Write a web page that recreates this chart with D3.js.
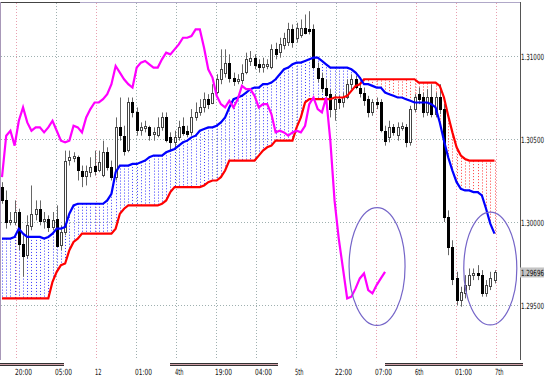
<!DOCTYPE html>
<html>
<head>
<meta charset="utf-8">
<script src="https://cdn.jsdelivr.net/npm/d3@7/dist/d3.min.js"></script>
<style>
  body { margin: 0; background: #fff; }
  svg { display: block; }
  text { font-family: "DejaVu Sans Condensed", "DejaVu Sans", sans-serif; }
</style>
</head>
<body>
<div id="chart"></div>
<script>
// Hourly bars
var open = [1.3021,1.3013,1.3000,1.3000,1.3006,1.2987,1.2980,1.2998,1.3005,1.3008,
  1.3001,1.3002,1.2997,1.3002,1.2986,1.2994,1.3037,1.3039,1.3039,1.3031,
  1.3028,1.3030,1.3034,1.3031,1.3028,1.3042,1.3033,1.3027,1.3057,1.3052,
  1.3043,1.3072,1.3066,1.3055,1.3057,1.3057,1.3053,1.3052,1.3057,1.3063,
  1.3051,1.3048,1.3051,1.3058,1.3055,1.3054,1.3063,1.3066,1.3069,1.3074,
  1.3072,1.3078,1.3086,1.3090,1.3096,1.3087,1.3085,1.3086,1.3090,1.3097,
  1.3099,1.3095,1.3093,1.3094,1.3093,1.3104,1.3102,1.3107,1.3108,1.3116,
  1.3111,1.3113,1.3117,1.3116,1.3116,1.3093,1.3087,1.3081,1.3077,1.3068,
  1.3074,1.3072,1.3075,1.3083,1.3086,1.3081,1.3078,1.3074,1.3066,1.3072,
  1.3072,1.3055,1.3051,1.3057,1.3052,1.3057,1.3057,1.3048,1.3068,1.3077,
  1.3075,1.3066,1.3075,1.3065,1.3075,1.3068,1.3003,1.2985,1.2966,1.2953,
  1.2957,1.2962,1.2968,1.2969,1.2968,1.2957,1.2961,1.2965];
var high = [1.3024,1.3019,1.3006,1.3013,1.3008,1.2992,1.3004,1.3022,1.3013,1.3013,
  1.3006,1.3004,1.3006,1.3010,1.2998,1.3043,1.3043,1.3042,1.3040,1.3034,
  1.3034,1.3039,1.3043,1.3043,1.3049,1.3045,1.3037,1.3063,1.3075,1.3058,
  1.3075,1.3075,1.3069,1.3060,1.3061,1.3058,1.3057,1.3063,1.3066,1.3066,
  1.3054,1.3055,1.3061,1.3063,1.3058,1.3068,1.3072,1.3074,1.3078,1.3077,
  1.3083,1.3089,1.3104,1.3104,1.3101,1.3090,1.3089,1.3095,1.3102,1.3103,
  1.3101,1.3098,1.3099,1.3098,1.3107,1.3108,1.3111,1.3114,1.3120,1.3119,
  1.3120,1.3122,1.3125,1.3127,1.3119,1.3096,1.3090,1.3086,1.3080,1.3077,
  1.3076,1.3078,1.3086,1.3089,1.3088,1.3084,1.3081,1.3076,1.3074,1.3075,
  1.3074,1.3058,1.3061,1.3059,1.3060,1.3060,1.3059,1.3070,1.3077,1.3081,
  1.3078,1.3080,1.3083,1.3078,1.3083,1.3071,1.3007,1.2989,1.2970,1.2961,
  1.2968,1.2972,1.2972,1.2974,1.2971,1.2965,1.2970,1.2971];
var low = [1.3011,1.2996,1.2998,1.2998,1.2983,1.2967,1.2978,1.2995,1.3001,1.2998,
  1.2996,1.2994,1.2995,1.2985,1.2983,1.2992,1.3034,1.3036,1.3025,1.3021,
  1.3022,1.3027,1.3028,1.3030,1.3027,1.3031,1.3025,1.3025,1.3049,1.3040,
  1.3042,1.3063,1.3052,1.3052,1.3054,1.3049,1.3049,1.3051,1.3055,1.3048,
  1.3043,1.3045,1.3049,1.3052,1.3051,1.3052,1.3061,1.3064,1.3066,1.3068,
  1.3071,1.3077,1.3083,1.3087,1.3084,1.3082,1.3083,1.3083,1.3089,1.3094,
  1.3092,1.3090,1.3090,1.3092,1.3092,1.3098,1.3099,1.3104,1.3106,1.3105,
  1.3108,1.3111,1.3113,1.3113,1.3092,1.3084,1.3078,1.3074,1.3063,1.3061,
  1.3068,1.3069,1.3074,1.3080,1.3080,1.3075,1.3070,1.3063,1.3064,1.3068,
  1.3054,1.3046,1.3048,1.3052,1.3049,1.3055,1.3045,1.3046,1.3066,1.3071,
  1.3063,1.3064,1.3063,1.3063,1.3065,1.3000,1.2980,1.2962,1.2950,1.2949,
  1.2954,1.2959,1.2965,1.2965,1.2955,1.2955,1.2959,1.2963];
var close = [1.3013,1.3000,1.3001,1.3006,1.2987,1.2980,1.2998,1.3005,1.3008,1.3001,
  1.3002,1.2997,1.3001,1.2986,1.2994,1.3037,1.3039,1.3040,1.3031,1.3028,
  1.3031,1.3033,1.3031,1.3036,1.3042,1.3033,1.3027,1.3057,1.3052,1.3043,
  1.3072,1.3066,1.3055,1.3057,1.3058,1.3052,1.3054,1.3057,1.3063,1.3049,
  1.3048,1.3051,1.3057,1.3054,1.3053,1.3063,1.3066,1.3069,1.3074,1.3071,
  1.3078,1.3086,1.3092,1.3096,1.3087,1.3085,1.3086,1.3090,1.3098,1.3099,
  1.3095,1.3093,1.3095,1.3095,1.3104,1.3101,1.3107,1.3111,1.3116,1.3108,
  1.3117,1.3117,1.3114,1.3115,1.3093,1.3087,1.3081,1.3077,1.3068,1.3074,
  1.3072,1.3075,1.3083,1.3086,1.3081,1.3078,1.3074,1.3066,1.3072,1.3071,
  1.3055,1.3049,1.3057,1.3054,1.3057,1.3058,1.3048,1.3068,1.3075,1.3074,
  1.3066,1.3075,1.3065,1.3075,1.3068,1.3003,1.2985,1.2966,1.2953,1.2958,
  1.2962,1.2968,1.2969,1.2968,1.2957,1.2962,1.2966,1.29696];

// Ichimoku cloud edges (blue = span A, red = span B)
var spanA = [1.2990,1.2990,1.2990,1.2991,1.2996,1.2993,1.2991,1.2991,1.2991,1.2991,
  1.2990,1.2991,1.2993,1.2996,1.2996,1.2997,1.3005,1.3010,1.3011,1.3011,
  1.3011,1.3011,1.3011,1.3011,1.3011,1.3013,1.3017,1.3030,1.3034,1.3034,
  1.3034,1.3035,1.3035,1.3036,1.3037,1.3039,1.3040,1.3040,1.3040,1.3042,
  1.3043,1.3044,1.3046,1.3048,1.3049,1.3051,1.3052,1.3055,1.3056,1.3057,
  1.3057,1.3058,1.3060,1.3063,1.3069,1.3074,1.3075,1.3076,1.3078,1.3080,
  1.3081,1.3081,1.3083,1.3083,1.3084,1.3086,1.3089,1.3092,1.3093,1.3095,
  1.3096,1.3096,1.3097,1.3098,1.3099,1.3099,1.3097,1.3095,1.3093,1.3093,
  1.3093,1.3093,1.3093,1.3092,1.3090,1.3087,1.3083,1.3083,1.3082,1.3081,
  1.3081,1.3078,1.3077,1.3076,1.3075,1.3075,1.3074,1.3073,1.3072,1.3072,
  1.3072,1.3072,1.3071,1.3069,1.3060,1.3049,1.3039,1.3031,1.3024,1.3020,
  1.3019,1.3019,1.3018,1.3018,1.3016,1.3008,1.2999,1.2993];
var spanB = [1.2954,1.2954,1.2954,1.2954,1.2954,1.2954,1.2954,1.2954,1.2954,1.2954,
  1.2954,1.2954,1.2964,1.2970,1.2974,1.2975,1.2983,1.2988,1.2990,1.2993,
  1.2993,1.2993,1.2993,1.2993,1.2993,1.2993,1.2993,1.2996,1.3005,1.3008,
  1.3010,1.3010,1.3010,1.3010,1.3010,1.3010,1.3010,1.3010,1.3011,1.3013,
  1.3018,1.3021,1.3021,1.3021,1.3021,1.3021,1.3021,1.3021,1.3022,1.3024,
  1.3025,1.3025,1.3027,1.3031,1.3037,1.3037,1.3037,1.3037,1.3037,1.3037,
  1.3037,1.3040,1.3043,1.3045,1.3046,1.3049,1.3049,1.3049,1.3049,1.3049,
  1.3057,1.3063,1.3072,1.3074,1.3074,1.3074,1.3074,1.3074,1.3074,1.3075,
  1.3075,1.3075,1.3076,1.3079,1.3082,1.3083,1.3086,1.3086,1.3086,1.3086,
  1.3086,1.3086,1.3086,1.3086,1.3086,1.3086,1.3086,1.3086,1.3086,1.3084,
  1.3084,1.3084,1.3084,1.3084,1.3082,1.3075,1.3064,1.3054,1.3045,1.3040,
  1.3038,1.3037,1.3037,1.3037,1.3037,1.3037,1.3037,1.3037];

// Lagging span (magenta), starts at the first bar
var chikou = [1.3027,1.3052,1.3055,1.3046,1.3061,1.3069,1.3060,1.3055,1.3057,1.3057,
  1.3054,1.3057,1.3061,1.3055,1.3049,1.3048,1.3049,1.3058,1.3057,1.3054,
  1.3063,1.3068,1.3072,1.3072,1.3074,1.3077,1.3083,1.3094,1.3090,1.3086,
  1.3083,1.3081,1.3093,1.3096,1.3097,1.3095,1.3093,1.3093,1.3098,1.3102,
  1.3101,1.3104,1.3107,1.3111,1.3111,1.3112,1.3116,1.3116,1.3105,1.3092,
  1.3087,1.3076,1.3071,1.3069,1.3073,1.3069,1.3074,1.3082,1.3080,1.3080,
  1.3076,1.3069,1.3071,1.3071,1.3065,1.3054,1.3055,1.3054,1.3052,1.3054,
  1.3055,1.3054,1.3058,1.3071,1.3075,1.3068,1.3066,1.3075,1.3049,1.3013,
  1.2990,1.2972,1.2954,1.2955,1.2960,1.2966,1.2969,1.2959,1.2957,1.2962,
  1.2966,1.2970];

var timeLabels = ["20:00", "05:00", "12", "01:00", "4th", "19:00", "04:00", "5th", "22:00", "07:00", "6th", "01:00", "7th"];
var priceTicks = [1.295, 1.300, 1.305, 1.310];
var lastPrice = 1.29696;

var width = 547;
var height = 377;
var plotRight = 520;
var plotBottom = 360;

var svg = d3.select("#chart")
  .append("svg")
  .attr("width", width)
  .attr("height", height);

// scales
var x = d3.scaleLinear().domain([0, close.length - 1]).range([2, 494.5]);
var y = d3.scaleLinear().domain([1.295, 1.310]).range([305, 56]);
var xTime = d3.scaleLinear().domain([0, timeLabels.length - 1]).range([16, 496]);

// squeeze a label sideways to the wanted width, keeping its height
function squeeze(sel, widthOf) {
  sel.each(function(d) {
    var t = d3.select(this);
    var tx = +t.attr("x"), ty = +t.attr("y");
    var len = this.getComputedTextLength();
    var s = Math.min(1, widthOf(d) / len);
    t.attr("x", 0).attr("y", 0)
      .attr("transform", "translate(" + tx + "," + ty + ") scale(" + s.toFixed(3) + ",1)");
  });
}

svg.append("clipPath").attr("id", "plot")
  .append("rect").attr("x", 1).attr("y", 3).attr("width", plotRight - 1).attr("height", plotBottom - 3);

var plot = svg.append("g").attr("clip-path", "url(#plot)");

// grid
plot.selectAll("line.hgrid")
  .data(priceTicks)
  .enter()
  .append("line")
  .attr("x1", 1).attr("x2", plotRight)
  .attr("y1", function(d) { return Math.round(y(d)) + 0.5; })
  .attr("y2", function(d) { return Math.round(y(d)) + 0.5; })
  .attr("stroke", "#9fb0b0")
  .attr("stroke-dasharray", "1,2");

plot.selectAll("line.vgrid")
  .data(timeLabels)
  .enter()
  .append("line")
  .attr("x1", function(d, i) { return Math.round(xTime(i)) + 0.5; })
  .attr("x2", function(d, i) { return Math.round(xTime(i)) + 0.5; })
  .attr("y1", 3).attr("y2", plotBottom)
  .attr("stroke", function(d, i) { return (i >= 9 || i === 0 || i === 2) ? "#e8a0b0" : "#9fb0b0"; })
  .attr("stroke-dasharray", "1,2");

// cloud hatching: one dotted line per bar between the spans
plot.selectAll("line.hatch")
  .data(spanA)
  .enter()
  .append("line")
  .attr("x1", function(d, i) { return Math.round(x(i)) + 0.5; })
  .attr("x2", function(d, i) { return Math.round(x(i)) + 0.5; })
  .attr("y1", function(d) { return y(d); })
  .attr("y2", function(d, i) { return y(spanB[i]); })
  .attr("stroke", function(d, i) { return d >= spanB[i] ? "#3b3bff" : "#ff3b3b"; })
  .attr("stroke-dasharray", "1,2");

// candles
var bars = plot.selectAll("g.bar")
  .data(close)
  .enter()
  .append("g");

bars.append("line")
  .attr("x1", function(d, i) { return Math.round(x(i)) + 0.5; })
  .attr("x2", function(d, i) { return Math.round(x(i)) + 0.5; })
  .attr("y1", function(d, i) { return y(high[i]); })
  .attr("y2", function(d, i) { return y(low[i]); })
  .attr("stroke", "#666");

bars.append("rect")
  .attr("x", function(d, i) { return Math.round(x(i)) - 0.5; })
  .attr("y", function(d, i) { return Math.round(y(Math.max(open[i], d))) + 0.5; })
  .attr("width", 2)
  .attr("height", function(d, i) {
    return Math.max(1, Math.round(Math.abs(y(open[i]) - y(d))));
  })
  .attr("fill", function(d, i) { return d < open[i] ? "#000" : "#fff"; })
  .attr("stroke", function(d, i) { return d < open[i] ? "#000" : "#444"; });

// indicator lines
var line = d3.line().x(function(d, i) { return x(i); }).y(function(d) { return y(d); });

plot.append("path").datum(spanB).attr("d", line)
  .attr("fill", "none").attr("stroke", "#ff0000").attr("stroke-width", 2.2);
plot.append("path").datum(spanA).attr("d", line)
  .attr("fill", "none").attr("stroke", "#0000ff").attr("stroke-width", 2.2);
plot.append("path").datum(chikou).attr("d", line)
  .attr("fill", "none").attr("stroke", "#ff00ff").attr("stroke-width", 2.2);

// the two hand-drawn circles, in bar / price units
var notes = [
  { bar: 89.1, price: 1.29732, dBar: 6.65, dPrice: 0.00355 },
  { bar: 116.0, price: 1.29720, dBar: 6.3, dPrice: 0.0034 }
];
plot.selectAll("ellipse")
  .data(notes)
  .enter()
  .append("ellipse")
  .attr("cx", function(d) { return x(d.bar); })
  .attr("cy", function(d) { return y(d.price); })
  .attr("rx", function(d) { return x(d.bar + d.dBar) - x(d.bar); })
  .attr("ry", function(d) { return y(d.price - d.dPrice) - y(d.price); })
  .attr("fill", "none")
  .attr("stroke", "#7565c8")
  .attr("stroke-width", 1.2);

// frame
svg.append("line").attr("x1", 0).attr("x2", plotRight).attr("y1", 2.5).attr("y2", 2.5).attr("stroke", "#b0a8c8");
svg.append("line").attr("x1", 0).attr("x2", 80).attr("y1", 2.5).attr("y2", 2.5).attr("stroke", "#444");
svg.append("line").attr("x1", 0.5).attr("x2", 0.5).attr("y1", 2).attr("y2", plotBottom).attr("stroke", "#a898b8");
svg.append("line").attr("x1", plotRight + 0.5).attr("x2", plotRight + 0.5).attr("y1", 2).attr("y2", plotBottom).attr("stroke", "#555");

// strips under the time axis
var strips = [[0, 64], [170, 278], [385, 523]];
strips.forEach(function(s) {
  svg.append("line").attr("x1", s[0]).attr("x2", s[1]).attr("y1", 363.5).attr("y2", 363.5).attr("stroke", "#333");
  svg.append("line").attr("x1", s[0]).attr("x2", s[1]).attr("y1", 364.5).attr("y2", 364.5).attr("stroke", "#d0a0a8");
  svg.append("line").attr("x1", s[0]).attr("x2", s[1]).attr("y1", 365.5).attr("y2", 365.5).attr("stroke", "#333");
});

// price labels
svg.append("rect")
  .attr("x", 520).attr("y", y(lastPrice) - 5)
  .attr("width", 24).attr("height", 10)
  .attr("fill", "#c4c4c4");

svg.selectAll("text.price")
  .data(priceTicks.concat([lastPrice]))
  .enter()
  .append("text")
  .attr("x", 521)
  .attr("y", function(d) { return y(d) + 3.5; })
  .attr("font-size", "8.5px")
  .attr("fill", "#111")
  .text(function(d) { return d.toFixed(5); })
  .call(squeeze, function() { return 23; });

// time labels
svg.selectAll("text.time")
  .data(timeLabels)
  .enter()
  .append("text")
  .attr("x", function(d, i) { return xTime(i) - 1; })
  .attr("y", 375)
  .attr("font-size", "8.5px")
  .attr("fill", "#111")
  .text(function(d) { return d; })
  .call(squeeze, function(d) { return d.length === 5 ? 17 : (d.length === 3 ? 8.5 : 6.5); });
</script>
</body>
</html>
